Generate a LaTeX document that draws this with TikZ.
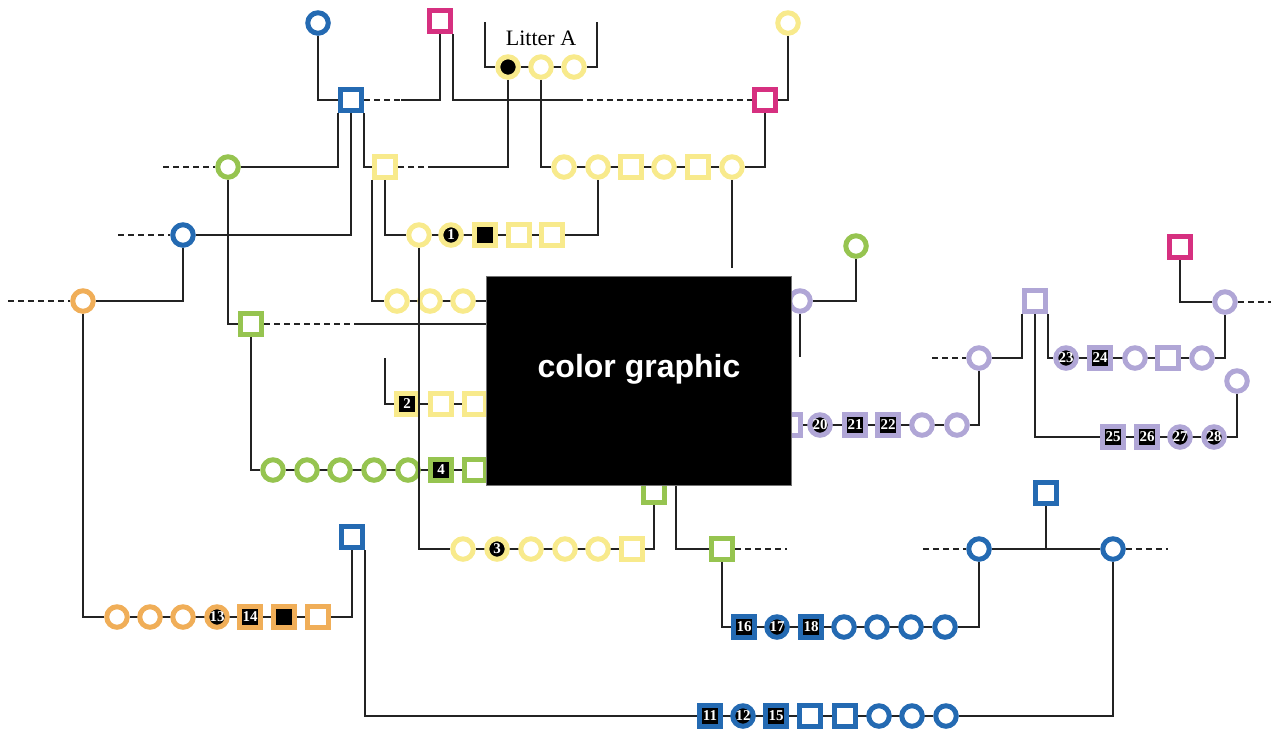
\documentclass[tikz,border=0pt]{standalone}
\usepackage{fontspec}
\setmainfont{Liberation Serif}
\newfontfamily\cgfont{Liberation Sans}
\usetikzlibrary{backgrounds}
\definecolor{yel}{RGB}{248,234,140}
\definecolor{grn}{RGB}{150,196,80}
\definecolor{blu}{RGB}{36,106,178}
\definecolor{mag}{RGB}{214,48,128}
\definecolor{org}{RGB}{240,174,88}
\definecolor{pur}{RGB}{176,166,214}
\definecolor{linec}{RGB}{35,35,35}
\newcommand{\numfnt}{\fontsize{15}{15}\selectfont\bfseries}
\begin{document}
\begin{tikzpicture}[x=1pt,y=-1pt,
 ln/.style={draw=linec,line width=2pt},
 dl/.style={draw=linec,line width=2pt,dash pattern=on 6pt off 4pt},
 fem/.style={circle,draw=#1,line width=5pt,fill=white,minimum size=20.5pt,inner sep=0pt},
 mal/.style={rectangle,draw=#1,line width=5pt,fill=white,minimum size=21.5pt,inner sep=0pt},
 femA/.style={fem=#1,fill=black,text=white,font=\numfnt},
 malA/.style={mal=#1,fill=black,text=white,font=\numfnt},
]
\useasboundingbox (0,0) rectangle (1271,732);

% ---------- nodes ----------
\node[fem=blu] (b1) at (318,23) {};
\node[mal=mag] (m1) at (440,21) {};
\node[femA=yel] (la1) at (508,67) {};
\node[fem=yel] (la2) at (541,67) {};
\node[fem=yel] (la3) at (574,67) {};
\node[font=\fontsize{22}{22}\selectfont] (lit) at (541,38) {Litter A};
\node[fem=yel] (y0) at (788,23) {};
\node[mal=blu] (bs1) at (351,100) {};
\node[mal=mag] (m2) at (765,100) {};
\node[fem=grn] (g1) at (228,167) {};
\node[mal=yel] (ys1) at (385,167) {};
\node[fem=yel] (r1a) at (564,167) {};
\node[fem=yel] (r1b) at (598,167) {};
\node[mal=yel] (r1c) at (631,167) {};
\node[fem=yel] (r1d) at (664,167) {};
\node[mal=yel] (r1e) at (698,167) {};
\node[fem=yel] (r1f) at (732,167) {};
\node[fem=blu] (bc2) at (183,235) {};
\node[fem=yel] (r2a) at (419,235) {};
\node[femA=yel] (r2b) at (451,235) {1};
\node[malA=yel] (r2c) at (485,235) {};
\node[mal=yel] (r2d) at (519,235) {};
\node[mal=yel] (r2e) at (552,235) {};
\node[fem=org] (o1) at (83,301) {};
\node[fem=yel] (r3a) at (397,301) {};
\node[fem=yel] (r3b) at (430,301) {};
\node[fem=yel] (r3c) at (463,301) {};
\node[mal=grn] (gs1) at (251,324) {};
\node[malA=yel] (r4a) at (407,404) {2};
\node[mal=yel] (r4b) at (441,404) {};
\node[mal=yel] (r4c) at (475,404) {};
\node[fem=grn] (gr1) at (273,470) {};
\node[fem=grn] (gr2) at (307,470) {};
\node[fem=grn] (gr3) at (340,470) {};
\node[fem=grn] (gr4) at (374,470) {};
\node[fem=grn] (gr5) at (408,470) {};
\node[malA=grn] (gr6) at (441,470) {4};
\node[mal=grn] (gr7) at (475,470) {};
\node[fem=yel] (yr1) at (463,549) {};
\node[femA=yel] (yr2) at (497,549) {3};
\node[fem=yel] (yr3) at (531,549) {};
\node[fem=yel] (yr4) at (565,549) {};
\node[fem=yel] (yr5) at (598,549) {};
\node[mal=yel] (yr6) at (632,549) {};
\node[mal=grn] (gs2) at (654,492) {};
\node[mal=grn] (gs3) at (722,549) {};
\node[malA=blu] (bl1) at (744,627) {16};
\node[femA=blu] (bl2) at (777,627) {17};
\node[malA=blu] (bl3) at (811,627) {18};
\node[fem=blu] (bl4) at (844,627) {};
\node[fem=blu] (bl5) at (877,627) {};
\node[fem=blu] (bl6) at (911,627) {};
\node[fem=blu] (bl7) at (945,627) {};
\node[fem=blu] (bc3) at (979,549) {};
\node[fem=blu] (bc4) at (1113,549) {};
\node[mal=blu] (bs3) at (1046,493) {};
\node[mal=blu] (bs2) at (352,537) {};
\node[malA=blu] (bb1) at (710,716) {11};
\node[femA=blu] (bb2) at (743,716) {12};
\node[malA=blu] (bb3) at (776,716) {15};
\node[mal=blu] (bb4) at (810,716) {};
\node[mal=blu] (bb5) at (845,716) {};
\node[fem=blu] (bb6) at (879,716) {};
\node[fem=blu] (bb7) at (912,716) {};
\node[fem=blu] (bb8) at (946,716) {};
\node[fem=org] (or1) at (117,617) {};
\node[fem=org] (or2) at (150,617) {};
\node[fem=org] (or3) at (183,617) {};
\node[femA=org] (or4) at (217,617) {13};
\node[malA=org] (or5) at (250,617) {14};
\node[malA=org] (or6) at (284,617) {};
\node[mal=org] (or7) at (318,617) {};
\node[fem=grn] (gc2) at (856,246) {};
\node[fem=pur] (p1) at (800,301) {};
\node[mal=pur] (pr0) at (790,425) {};
\node[femA=pur] (pr1) at (820,425) {20};
\node[malA=pur] (pr2) at (855,425) {21};
\node[malA=pur] (pr3) at (888,425) {22};
\node[fem=pur] (pr4) at (922,425) {};
\node[fem=pur] (pr5) at (957,425) {};
\node[fem=pur] (p2) at (979,358) {};
\node[mal=pur] (ps1) at (1035,301) {};
\node[femA=pur] (pt1) at (1066,358) {23};
\node[malA=pur] (pt2) at (1100,358) {24};
\node[fem=pur] (pt3) at (1135,358) {};
\node[mal=pur] (pt4) at (1168,358) {};
\node[fem=pur] (pt5) at (1202,358) {};
\node[fem=pur] (p3) at (1225,302) {};
\node[mal=mag] (m3) at (1180,247) {};
\node[malA=pur] (pq1) at (1113,437) {25};
\node[malA=pur] (pq2) at (1147,437) {26};
\node[femA=pur] (pq3) at (1180,437) {27};
\node[femA=pur] (pq4) at (1214,437) {28};
\node[fem=pur] (p4) at (1237,381) {};

% ---------- free ends ----------
\coordinate (brL) at (485,22);
\coordinate (brR) at (597,22);
\coordinate (c1) at (401,100);
\coordinate (c2) at (577,100);
\coordinate (c3) at (434,167);
\coordinate (c4) at (732,268);
\coordinate (c5) at (163,167);
\coordinate (c5b) at (118,235);
\coordinate (c5c) at (8,301);
\coordinate (c6) at (358,324);
\coordinate (c7) at (490,324);
\coordinate (c8) at (490,301);
\coordinate (c9) at (385,358);
\coordinate (c10) at (676,480);
\coordinate (c11) at (787,549);
\coordinate (c12) at (923,549);
\coordinate (c13) at (1046,549);
\coordinate (c14) at (1168,549);
\coordinate (c15) at (800,357);
\coordinate (c16) at (932,358);
\coordinate (c17) at (1271,302);

% ---------- connectors ----------
\begin{scope}[on background layer]
\draw[ln] (brL) |- (la1.west);
\draw[ln] (brR) |- (la3.east);
\draw[ln] (la1) -- (la3);
\draw[ln] (b1.south) |- (bs1.west);
\draw[dl] (bs1.east) -- (c1);
\draw[ln] (c1) -| (m1.south);
\draw[ln] (m1.south east) |- (c2);
\draw[dl] (c2) -- (m2.west);
\draw[ln] (m2.east) -| (y0.south);
\draw[ln] (m2.south) |- (r1f.east);
\draw[ln] (la1.south) |- (c3);
\draw[dl] (c3) -- (ys1.east);
\draw[ln] (la2.south) |- (r1a.west);
\draw[ln] (r1a) -- (r1f);
\draw[ln] (r1b.south) |- (r2e.east);
\draw[ln] (r1f.south) -- (c4);
\draw[ln] (bs1.south west) |- (g1.east);
\draw[ln] (bs1.south) |- (bc2.east);
\draw[ln] (bs1.south east) |- (ys1.west);
\draw[ln] (ys1.south west) |- (r3a.west);
\draw[ln] (ys1.south) |- (r2a.west);
\draw[ln] (r2a) -- (r2e);
\draw[dl] (c5) -- (g1.west);
\draw[ln] (g1.south) |- (gs1.west);
\draw[dl] (c5b) -- (bc2.west);
\draw[ln] (bc2.south) |- (o1.east);
\draw[dl] (c5c) -- (o1.west);
\draw[ln] (o1.south) |- (or1.west);
\draw[dl] (gs1.east) -- (c6);
\draw[ln] (c6) -- (c7);
\draw[ln] (gs1.south) |- (gr1.west);
\draw[ln] (r3a) -- (c8);
\draw[ln] (c9) |- (r4a.west);
\draw[ln] (r4a) -- (r4c);
\draw[ln] (gr1) -- (gr7);
\draw[ln] (yr1) -- (yr6);
\draw[ln] (yr6.east) -| (gs2.south);
\draw[ln] (c10) |- (gs3.west);
\draw[dl] (gs3.east) -- (c11);
\draw[ln] (gs3.south) |- (bl1.west);
\draw[ln] (bl1) -- (bl7);
\draw[ln] (bl7.east) -| (bc3.south);
\draw[dl] (c12) -- (bc3.west);
\draw[ln] (bc3.east) -- (bc4.west);
\draw[ln] (bs3.south) -- (c13);
\draw[dl] (bc4.east) -- (c14);
\draw[ln] (bc4.south) |- (bb8.east);
\draw[ln] (bb1) -- (bb8);
\draw[ln] (bs2.south east) |- (bb1.west);
\draw[ln] (or1) -- (or7);
\draw[ln] (or7.east) -| (bs2.south);
\draw[ln] (p1.east) -| (gc2.south);
\draw[ln] (p1.south) -- (c15);
\draw[ln] (pr0) -- (pr5);
\draw[ln] (pr5.east) -| (p2.south);
\draw[dl] (c16) -- (p2.west);
\draw[ln] (p2.east) -| (ps1.south west);
\draw[ln] (ps1.south) |- (pq1.west);
\draw[ln] (ps1.south east) |- (pt1.west);
\draw[ln] (pt1) -- (pt5);
\draw[ln] (pt5.east) -| (p3.south);
\draw[dl] (p3.east) -- (c17);
\draw[ln] (p3.west) -| (m3.south);
\draw[ln] (pq1) -- (pq4);
\draw[ln] (pq4.east) -| (p4.south);
\end{scope}

% line crossing over symbols
\draw[ln] (r2a.south) |- (yr1.west);

% ---------- covering box ----------
\node[fill=black,draw=black!55,line width=1pt,minimum width=305pt,minimum height=209pt,inner sep=0pt] (box) at (638.5,380.5) {};
\node[text=white,font=\cgfont\bfseries\fontsize{32}{32}\selectfont] (cgtext) at (639,369) {color graphic};
\end{tikzpicture}
\end{document}
